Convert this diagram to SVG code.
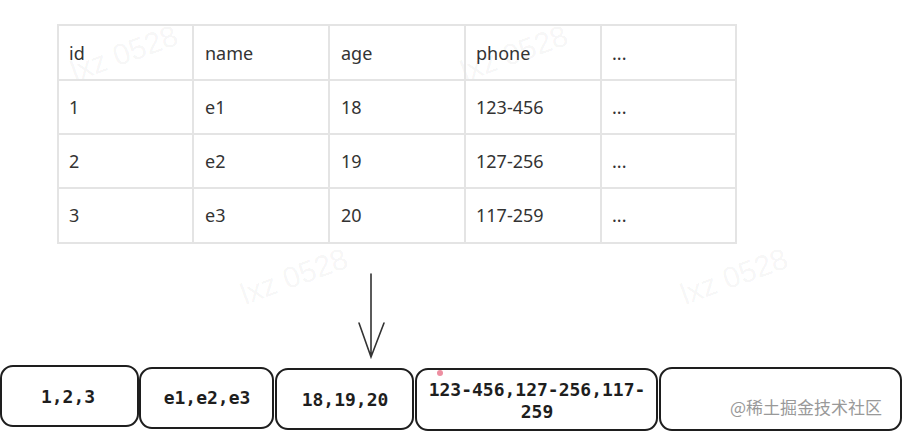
<svg xmlns="http://www.w3.org/2000/svg" width="906" height="434" viewBox="0 0 906 434">
<style>
.grid{fill:none;stroke:#e4e4e4;stroke-width:2}
.tt{font-family:"Noto Sans","Liberation Sans",sans-serif;font-size:18px;fill:#333}
.box{fill:#fff;stroke:#1e1e1e;stroke-width:2}
.bt{font-family:"DejaVu Sans Mono","Liberation Mono",monospace;font-size:18px;fill:#1e1e1e;text-anchor:middle;font-weight:bold}
.wm{font-family:"Liberation Sans",sans-serif;font-size:30px;fill:#000;fill-opacity:0.05}
.conn{fill:none;stroke:#333;stroke-width:1.6;stroke-linecap:round}
</style>
<rect width="906" height="434" fill="#fff"/>
<g id="watermarks">
<text class="wm" transform="translate(75,82) rotate(-20)">lxz 0528</text>
<text class="wm" transform="translate(465,82) rotate(-20)">lxz 0528</text>
<text class="wm" transform="translate(245,305) rotate(-20)">lxz 0528</text>
<text class="wm" transform="translate(685,305) rotate(-20)">lxz 0528</text>
</g>
<g id="table">
<rect class="grid" x="58" y="25" width="678" height="218"/>
<path class="grid" d="M193 25V243M329 25V243M465 25V243M601 25V243M58 80H736M58 134H736M58 188H736"/>
<g class="tt">
<text x="69" y="60">id</text><text x="205" y="60">name</text><text x="341" y="60">age</text><text x="476" y="60">phone</text><text x="612" y="60">...</text>
<text x="69" y="114">1</text><text x="205" y="114">e1</text><text x="341" y="114">18</text><text x="476" y="114">123-456</text><text x="612" y="114">...</text>
<text x="69" y="168">2</text><text x="205" y="168">e2</text><text x="341" y="168">19</text><text x="476" y="168">127-256</text><text x="612" y="168">...</text>
<text x="69" y="222">3</text><text x="205" y="222">e3</text><text x="341" y="222">20</text><text x="476" y="222">117-259</text><text x="612" y="222">...</text>
</g>
</g>
<g id="connectors">
<path class="conn" d="M371 274V357M359 323L371 357L384 323"/>
</g>
<g id="box1"><rect class="box" x="1" y="366" width="137" height="60" rx="12"/><text class="bt" x="68" y="403">1,2,3</text></g>
<g id="box2"><rect class="box" x="140" y="368" width="133" height="60" rx="12"/><text class="bt" x="207" y="404">e1,e2,e3</text></g>
<g id="box3"><rect class="box" x="276" y="369" width="137" height="60" rx="12"/><text class="bt" x="345" y="406">18,19,20</text></g>
<g id="box4"><rect class="box" x="416" y="369" width="241" height="61" rx="12"/><text class="bt" x="537" y="396">123-456,127-256,117-</text><text class="bt" x="537" y="418">259</text><circle cx="440" cy="373" r="3" fill="#e8738a" fill-opacity="0.8"/></g>
<g id="box5"><rect class="box" x="660" y="368" width="241" height="62" rx="12"/><text x="730" y="414" style="font-family:'Noto Sans CJK SC',sans-serif;font-size:17px;fill:#999">@稀土掘金技术社区</text></g>
</svg>
